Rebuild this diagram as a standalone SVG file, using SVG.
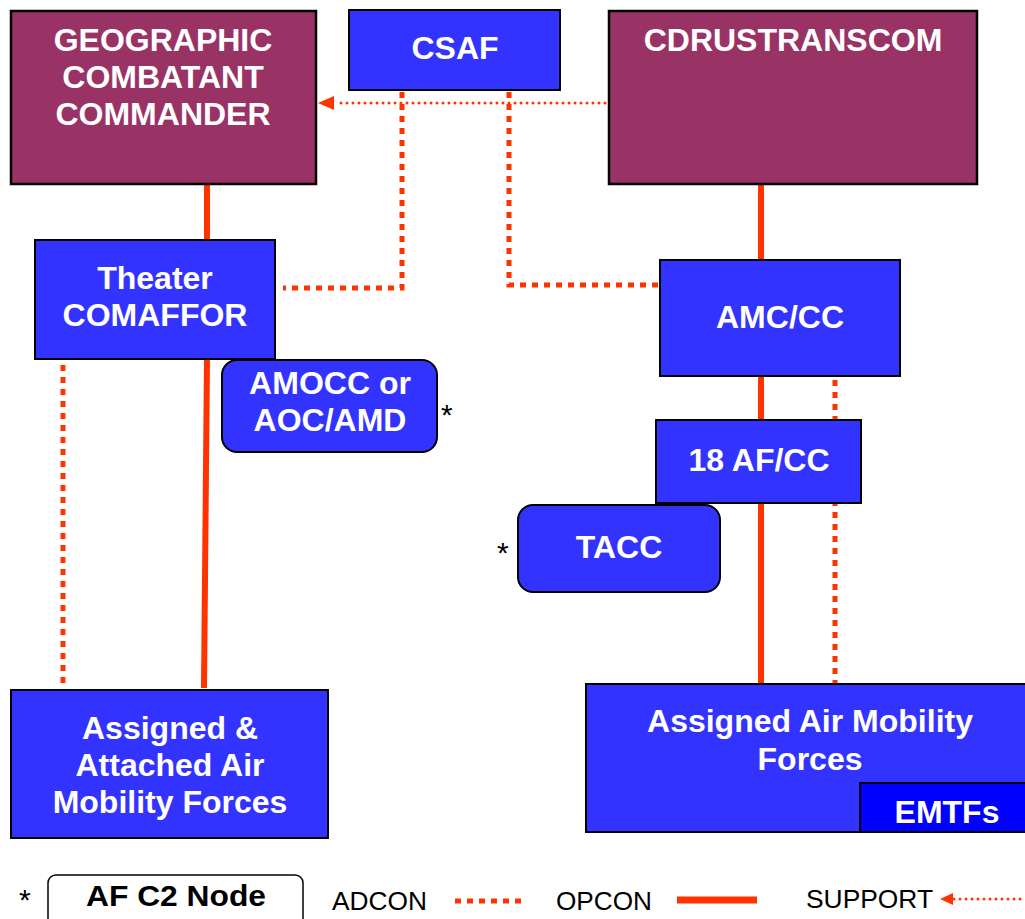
<svg xmlns="http://www.w3.org/2000/svg" width="1025" height="919" viewBox="0 0 1025 919">
<style>
.maroon{fill:#993366;stroke:#000;stroke-width:2.5}
.blue{fill:#3333FF;stroke:#000;stroke-width:2}
.t{font-family:"Liberation Sans",Arial,sans-serif;font-weight:bold;font-size:32px;fill:#fff;text-anchor:middle}
.lg{font-family:"Liberation Sans",Arial,sans-serif;font-size:25px;fill:#000}
.star{font-family:"Liberation Sans",Arial,sans-serif;font-size:30px;fill:#000}
.solid{stroke:#FF3300;stroke-width:6;fill:none}
.adcon{stroke:#FF3300;stroke-width:5;stroke-dasharray:6 6;fill:none}
.support{stroke:#FF3300;stroke-width:3;stroke-dasharray:0 6;stroke-linecap:round;fill:none}
</style>
<g id="connectors">
<line class="solid" x1="207" y1="184" x2="207" y2="240"/>
<line class="solid" x1="207" y1="359" x2="204" y2="688"/>
<line class="adcon" x1="63" y1="365" x2="63" y2="688"/>
<polyline class="adcon" points="402,92 402,288 283,288"/>
<polyline class="adcon" points="509,92 509,285 660,285"/>
<line class="solid" x1="761" y1="184" x2="761" y2="260"/>
<line class="solid" x1="761" y1="376" x2="761" y2="684"/>
<line class="adcon" x1="835" y1="380" x2="835" y2="684"/>
<line class="support" x1="605" y1="103" x2="336" y2="103"/>
<path d="M334,96 L318,103 L334,110 Z" fill="#FF3300"/>
</g>
<g id="gcc"><rect class="maroon" x="11" y="11" width="305" height="173"/>
<text class="t"><tspan x="163" y="51">GEOGRAPHIC</tspan><tspan x="163" y="88">COMBATANT</tspan><tspan x="163" y="125">COMMANDER</tspan></text></g>
<g id="csaf"><rect class="blue" x="349" y="10" width="211" height="80"/>
<text class="t" x="455" y="59">CSAF</text></g>
<g id="cdrustranscom"><rect class="maroon" x="609" y="11" width="368" height="173"/>
<text class="t" x="793" y="51">CDRUSTRANSCOM</text></g>
<g id="theater"><rect class="blue" x="35" y="240" width="240" height="119"/>
<text class="t"><tspan x="155" y="289">Theater</tspan><tspan x="155" y="326">COMAFFOR</tspan></text></g>
<g id="amocc"><rect class="blue" x="222" y="360" width="215" height="92" rx="15"/>
<text class="t"><tspan x="330" y="394">AMOCC or</tspan><tspan x="330" y="431">AOC/AMD</tspan></text>
<text class="star" x="441" y="425">*</text></g>
<g id="amc"><rect class="blue" x="660" y="260" width="240" height="116"/>
<text class="t" x="780" y="328">AMC/CC</text></g>
<g id="af18"><rect class="blue" x="656" y="420" width="205" height="83"/>
<text class="t" x="759" y="471">18 AF/CC</text></g>
<g id="tacc"><rect class="blue" x="518" y="505" width="202" height="87" rx="15"/>
<text class="t" x="619" y="558">TACC</text>
<text class="star" x="497" y="563">*</text></g>
<g id="attached"><rect class="blue" x="11" y="690" width="317" height="148"/>
<text class="t"><tspan x="170" y="739">Assigned &amp;</tspan><tspan x="170" y="776">Attached Air</tspan><tspan x="170" y="813">Mobility Forces</tspan></text></g>
<g id="assigned"><rect class="blue" x="586" y="684" width="445" height="148"/>
<text class="t"><tspan x="810" y="732">Assigned Air Mobility</tspan><tspan x="810" y="770">Forces</tspan></text></g>
<g id="emtfs"><rect x="860" y="783" width="170" height="49" fill="#0000FF" stroke="#000" stroke-width="2"/>
<text class="t" x="947" y="823">EMTFs</text></g>
<g id="legend">
<text class="star" x="19" y="910">*</text>
<rect x="48" y="875" width="255" height="60" rx="8" fill="#fff" stroke="#000" stroke-width="1.5"/>
<text x="176" y="906" font-family="Liberation Sans,Arial,sans-serif" font-weight="bold" font-size="29" text-anchor="middle" fill="#000" textLength="180" lengthAdjust="spacingAndGlyphs">AF C2 Node</text>
<text class="lg" x="332" y="910" textLength="95" lengthAdjust="spacingAndGlyphs">ADCON</text>
<line class="adcon" x1="455" y1="901" x2="527" y2="901"/>
<text class="lg" x="556" y="910" textLength="96" lengthAdjust="spacingAndGlyphs">OPCON</text>
<line x1="677" y1="900" x2="757" y2="900" stroke="#FF3300" stroke-width="7"/>
<text class="lg" x="806" y="908" textLength="127" lengthAdjust="spacingAndGlyphs">SUPPORT</text>
<line class="support" x1="1020" y1="899" x2="952" y2="899"/>
<path d="M953,893 L940,899 L953,905 Z" fill="#FF3300"/>
</g>
</svg>
